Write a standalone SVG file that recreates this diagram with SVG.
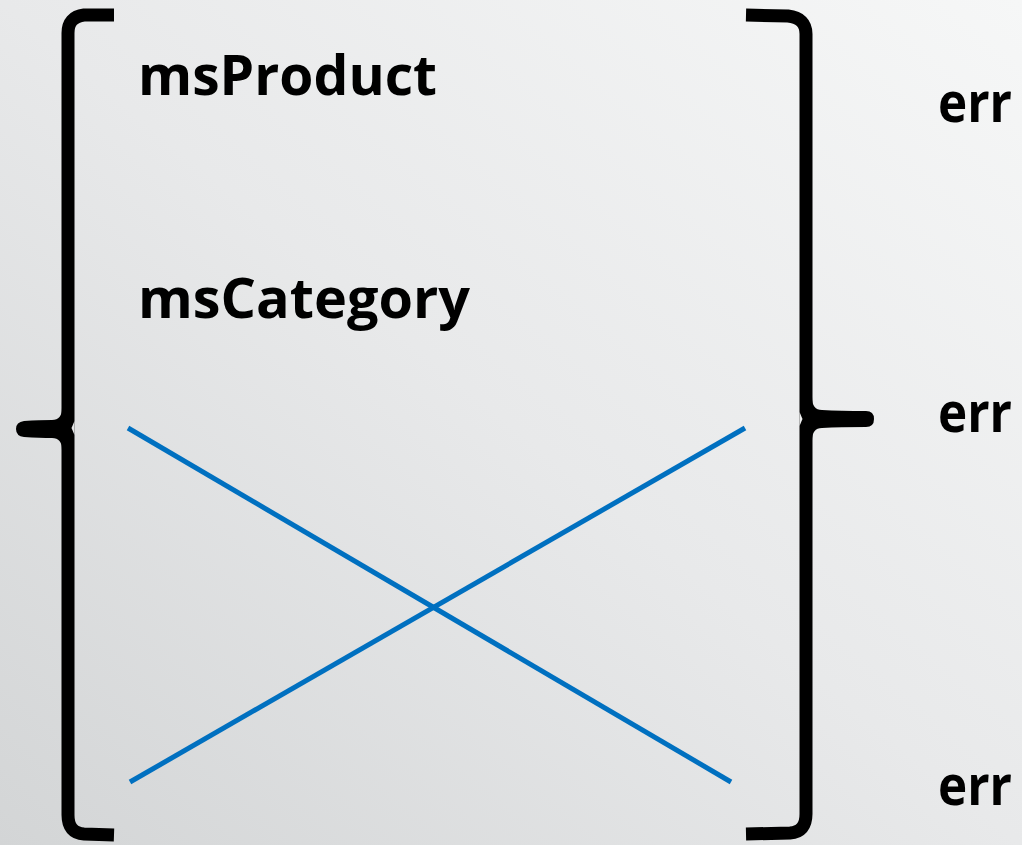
<svg xmlns="http://www.w3.org/2000/svg" width="1022" height="845" viewBox="0 0 1022 845">
<defs>
<linearGradient id="bg" x1="0" y1="1" x2="1" y2="0">
<stop offset="0" stop-color="#d3d5d6"/>
<stop offset="0.5" stop-color="#e8e9ea"/>
<stop offset="1" stop-color="#f6f7f7"/>
</linearGradient>
<style>
.t{font-family:"Open Sans","Noto Sans","Liberation Sans",sans-serif;font-weight:700;font-size:56px;fill:#000}
.br{fill:none;stroke:#000;stroke-width:13;stroke-linejoin:round}
.x{stroke:#0070C0;stroke-width:5;fill:none}
</style>
</defs>
<rect width="1022" height="845" fill="url(#bg)"/>
<g id="left-brace">
<path class="br" d="M114,15 L84,15 Q68,17 68,33 L68,815 Q68,833 84,834 L114,835"/>
<path d="M62,408 Q62,420 52,420 Q40,420 24,421 Q16,422 16,429 Q16,436 24,437 Q40,438 52,438 Q62,438 62,450 Z" fill="#000"/>
<path d="M74.5,421 L71.5,428 L74.5,435 Z" fill="#e4e5e6"/>
</g>
<g id="right-brace">
<path class="br" d="M746,15 L788,16 Q806,18 806,34 L806,814 Q806,832 790,833 L746,834"/>
<path d="M812,397 Q812,410 822,410 Q840,411 866,411 Q874,411 874,419 Q874,427 866,427 Q840,427 822,428 Q812,428 812,441 Z" fill="#000"/>
<path d="M799.5,412 L802.5,419 L799.5,426 Z" fill="#eeefef"/>
</g>
<g id="msProduct"><text class="t" x="138" y="95" textLength="299" lengthAdjust="spacingAndGlyphs">msProduct</text></g>
<g id="msCategory"><text class="t" x="138" y="318" textLength="332" lengthAdjust="spacingAndGlyphs">msCategory</text></g>
<g id="err1"><text class="t" x="938" y="122" textLength="74" lengthAdjust="spacingAndGlyphs">err</text></g>
<g id="err2"><text class="t" x="938" y="432" textLength="74" lengthAdjust="spacingAndGlyphs">err</text></g>
<g id="err3"><text class="t" x="938" y="805" textLength="74" lengthAdjust="spacingAndGlyphs">err</text></g>
<g id="connectors">
<line class="x" x1="128" y1="428" x2="731" y2="782"/>
<line class="x" x1="130" y1="782" x2="745" y2="428"/>
</g>
</svg>
